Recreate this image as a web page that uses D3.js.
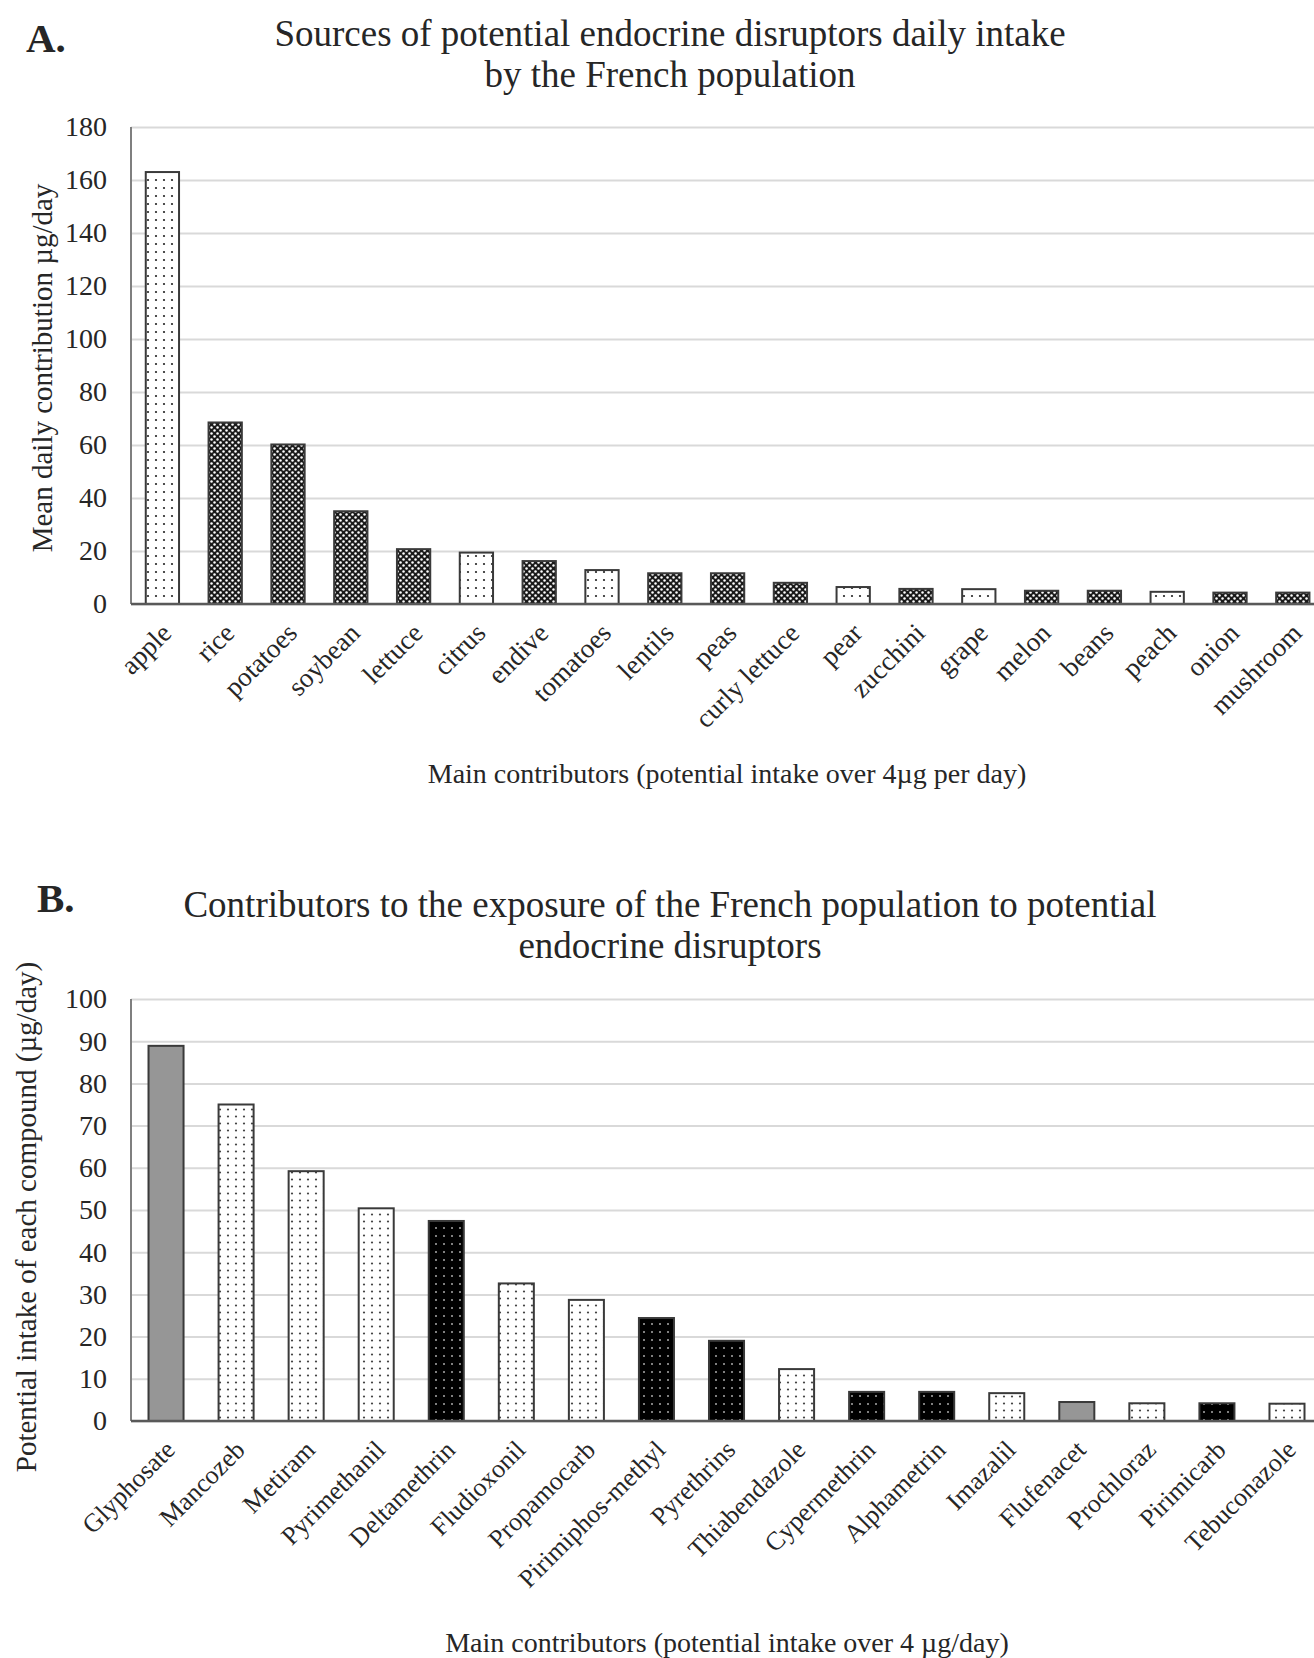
<!DOCTYPE html>
<html lang="en">
<head>
<meta charset="UTF-8">
<title>Endocrine disruptors</title>
<script src="https://cdn.jsdelivr.net/npm/d3@7"></script>
<style>
  body { margin: 0; background: #fff; }
  text { font-family: "Liberation Serif", "Times New Roman", serif; fill: #262626; }
</style>
</head>
<body>
<script>
// panel A data
var foods = ["apple", "rice", "potatoes", "soybean", "lettuce", "citrus", "endive", "tomatoes", "lentils",
    "peas", "curly lettuce", "pear", "zucchini", "grape", "melon", "beans", "peach", "onion", "mushroom"];
var foodIntake = [163, 68.5, 60.2, 35, 20.7, 19.4, 16.2, 12.8, 11.6, 11.6, 8, 6.4, 5.7, 5.6, 5.0, 5.0, 4.6, 4.3, 4.3];
var foodKind = ["fruit", "other", "other", "other", "other", "fruit", "other", "fruit", "other",
    "other", "other", "fruit", "other", "fruit", "other", "other", "fruit", "other", "other"];
var foodTicks = [0, 20, 40, 60, 80, 100, 120, 140, 160, 180];

// panel B data
var compounds = ["Glyphosate", "Mancozeb", "Metiram", "Pyrimethanil", "Deltamethrin", "Fludioxonil",
    "Propamocarb", "Pirimiphos-methyl", "Pyrethrins", "Thiabendazole", "Cypermethrin", "Alphametrin",
    "Imazalil", "Flufenacet", "Prochloraz", "Pirimicarb", "Tebuconazole"];
var compoundIntake = [88.9, 75, 59.2, 50.4, 47.4, 32.6, 28.7, 24.4, 19.0, 12.3, 6.9, 6.9, 6.6, 4.5, 4.2, 4.2, 4.1];
var compoundKind = ["herbicide", "fungicide", "fungicide", "fungicide", "insecticide", "fungicide",
    "fungicide", "insecticide", "insecticide", "fungicide", "insecticide", "insecticide",
    "fungicide", "herbicide", "fungicide", "insecticide", "fungicide"];
var compoundTicks = [0, 10, 20, 30, 40, 50, 60, 70, 80, 90, 100];

var width = 1314;
var height = 1658;

var svg = d3.select('body')
    .append('svg')
    .attr('width', width)
    .attr('height', height);

var defs = svg.append('defs');

// dense black pattern with white dots (checker look)
var pDark = defs.append('pattern').attr('id', 'dark')
    .attr('patternUnits', 'userSpaceOnUse').attr('width', 6).attr('height', 6);
pDark.append('rect').attr('width', 6).attr('height', 6).attr('fill', '#1a1a1a');
pDark.append('circle').attr('cx', 1.5).attr('cy', 1.5).attr('r', 1.25).attr('fill', '#fff');
pDark.append('circle').attr('cx', 4.5).attr('cy', 4.5).attr('r', 1.25).attr('fill', '#fff');

// white pattern with sparse dots
function lightPattern(id, dot, w, h) {
    var p = defs.append('pattern').attr('id', id)
        .attr('patternUnits', 'userSpaceOnUse').attr('width', w).attr('height', h);
    p.append('rect').attr('width', w).attr('height', h).attr('fill', '#fff');
    p.append('circle').attr('cx', w / 2).attr('cy', h / 2).attr('r', 1.1).attr('fill', dot);
}
lightPattern('light', '#222', 8, 8);
lightPattern('lightB', '#444', 8, 7);

// black with grey dots
var pBlack = defs.append('pattern').attr('id', 'black')
    .attr('patternUnits', 'userSpaceOnUse').attr('width', 8).attr('height', 8);
pBlack.append('rect').attr('width', 8).attr('height', 8).attr('fill', '#000');
pBlack.append('circle').attr('cx', 4).attr('cy', 4).attr('r', 1).attr('fill', '#aaa');

function drawPanel(cfg) {
    var x = d3.scaleBand()
        .domain(cfg.cats)
        .range([131, 131 + cfg.step * cfg.cats.length])
        .paddingInner(cfg.pad)
        .paddingOuter(cfg.pad / 2);

    var y = d3.scaleLinear()
        .domain([0, cfg.max])
        .range([cfg.bottom, cfg.top]);

    // gridlines + tick labels
    var yAxis = d3.axisLeft(y)
        .tickValues(cfg.ticks)
        .tickSize(-(width - 131))
        .tickPadding(24);

    var gy = svg.append('g')
        .attr('transform', 'translate(131,0)')
        .call(yAxis);
    gy.select('.domain').remove();
    gy.selectAll('.tick line').attr('stroke', '#d9d9d9').attr('stroke-width', 2);
    gy.selectAll('.tick text')
        .style('font-family', '"Liberation Serif", serif')
        .style('font-size', '28px')
        .attr('fill', '#262626');

    // left axis line
    svg.append('line')
        .attr('x1', 131).attr('x2', 131)
        .attr('y1', y(cfg.max)).attr('y2', y(0))
        .attr('stroke', '#7f7f7f').attr('stroke-width', 2);

    svg.selectAll(null)
        .data(cfg.values)
        .enter()
        .append('rect')
        .attr('x', function (d, i) { return x(cfg.cats[i]); })
        .attr('y', function (d) { return y(d); })
        .attr('width', x.bandwidth())
        .attr('height', function (d) { return y(0) - y(d); })
        .attr('fill', function (d, i) { return cfg.fill[cfg.kinds[i]]; })
        .attr('stroke', '#3a3a3a')
        .attr('stroke-width', 2);

    var xAxis = d3.axisBottom(x).tickSize(0).tickPadding(0);
    var gx = svg.append('g')
        .attr('transform', 'translate(0,' + cfg.bottom + ')')
        .call(xAxis);
    gx.select('.domain')
        .attr('d', 'M131,0H' + width)
        .attr('stroke', '#595959').attr('stroke-width', 2.5);
    gx.selectAll('.tick text')
        .style('font-family', '"Liberation Serif", serif')
        .style('font-size', cfg.labelSize)
        .attr('fill', '#262626')
        .attr('text-anchor', 'end')
        .attr('dy', '0.35em')
        .attr('transform', 'translate(4,' + cfg.labelOffset + ') rotate(-45)');

    // panel letter
    svg.append('text')
        .attr('x', cfg.letterX).attr('y', cfg.letterY)
        .style('font-size', '41px').style('font-weight', 'bold')
        .attr('fill', '#111')
        .text(cfg.letter);

    // title lines
    svg.selectAll(null)
        .data(cfg.title)
        .enter()
        .append('text')
        .attr('x', 670)
        .attr('y', function (d, i) { return cfg.titleY + i * 41; })
        .attr('text-anchor', 'middle')
        .style('font-size', '37px')
        .attr('fill', '#111')
        .text(function (d) { return d; });

    // axis titles
    svg.append('text')
        .attr('x', 727).attr('y', cfg.xTitleY)
        .attr('text-anchor', 'middle')
        .style('font-size', '28px')
        .text(cfg.xTitle);

    svg.append('text')
        .attr('transform', 'translate(' + cfg.yTitleX + ',' + cfg.yTitleY + ') rotate(-90)')
        .attr('text-anchor', 'middle')
        .style('font-size', '29px')
        .text(cfg.yTitle);
}

drawPanel({
    cats: foods, values: foodIntake, kinds: foodKind, ticks: foodTicks,
    max: 180, top: 127, bottom: 604, step: 62.8, pad: 0.47,
    fill: { fruit: 'url(#light)', other: 'url(#dark)' },
    labelOffset: 24, labelSize: '27px',
    letter: 'A.', letterX: 26, letterY: 52,
    title: ['Sources of potential endocrine disruptors daily intake', 'by the French population'],
    titleY: 46,
    xTitle: 'Main contributors (potential intake over 4\u00b5g per day)', xTitleY: 783,
    yTitle: 'Mean daily contribution \u00b5g/day', yTitleX: 52, yTitleY: 368
});

drawPanel({
    cats: compounds, values: compoundIntake, kinds: compoundKind, ticks: compoundTicks,
    max: 100, top: 999, bottom: 1421, step: 70.06, pad: 0.5,
    fill: { herbicide: '#969696', fungicide: 'url(#lightB)', insecticide: 'url(#black)' },
    labelOffset: 24, labelSize: '26px',
    letter: 'B.', letterX: 37, letterY: 912,
    title: ['Contributors to the exposure of the French population to potential', 'endocrine disruptors'],
    titleY: 917,
    xTitle: 'Main contributors (potential intake over 4 \u00b5g/day)', xTitleY: 1652,
    yTitle: 'Potential intake of each compound (\u00b5g/day)', yTitleX: 36, yTitleY: 1217
});
</script>
</body>
</html>
